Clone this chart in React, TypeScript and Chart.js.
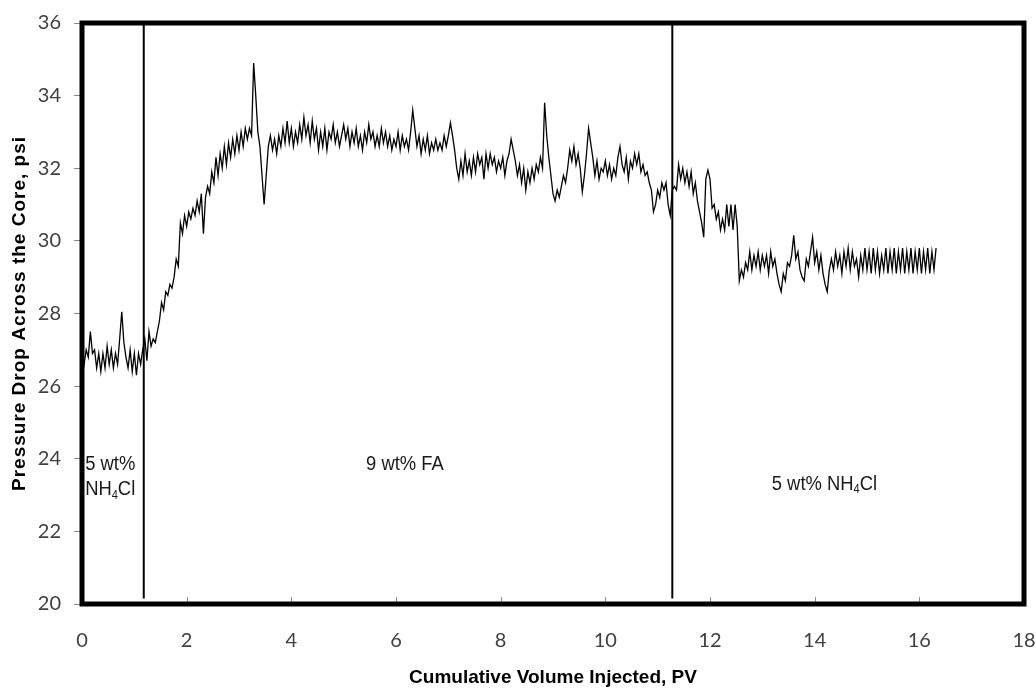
import { useEffect, useRef } from "react";
import { Chart, registerables } from "chart.js";

Chart.register(...registerables);

// Sampling interval of the logged pressure record (pore volumes)
const PV_STEP = 0.04;

// Pressure drop across the core (psi), logged every PV_STEP from 0 PV
const DP_PV_0_TO_2 = [
  26.9, 26.6, 27.0, 26.8, 27.5, 26.9, 27.0, 26.5, 26.9, 26.4,
  26.9, 26.5, 27.1, 26.6, 27.0, 26.5, 26.9, 26.6, 27.3, 28.05,
  27.2, 26.8, 26.5, 27.0, 26.4, 26.9, 26.3, 26.9, 26.6, 27.0,
  27.3, 26.7, 27.5, 27.1, 27.3, 27.2, 27.5, 27.8, 28.3, 28.1,
  28.6, 28.5, 28.8, 28.7, 29.0, 29.5, 29.3, 30.5, 30.2, 30.7,
];
const DP_PV_2_TO_4 = [
  30.4, 30.8, 30.6, 30.9, 30.7, 31.1, 30.8, 31.3, 30.2, 31.2,
  31.5, 31.3, 31.9, 31.6, 32.3, 31.8, 32.4, 32.0, 32.6, 32.1,
  32.7, 32.3, 32.8, 32.4, 32.9, 32.5, 33.0, 32.6, 33.1, 32.8,
  33.1, 32.9, 34.9, 34.0, 33.0, 32.6, 31.8, 31.0, 31.8, 32.6,
  32.9, 32.5, 32.8, 32.4, 32.9, 32.6, 33.1, 32.7, 33.3, 32.7,
];
const DP_PV_4_TO_6 = [
  33.1, 32.6, 33.0, 32.7, 33.2, 32.8, 33.4, 32.9, 33.2, 32.7,
  33.3, 32.8, 33.1, 32.5, 33.0, 32.6, 33.1, 32.5, 33.0, 32.8,
  33.2, 32.7, 33.0, 32.6, 32.9, 33.2, 32.8, 33.1, 32.6, 33.0,
  32.7, 33.1, 32.6, 32.9, 32.5, 33.0, 32.7, 33.2, 32.8, 33.0,
  32.6, 32.9, 32.6, 33.1, 32.7, 33.0, 32.6, 32.9, 32.5, 32.8,
];
const DP_PV_6_TO_8 = [
  32.6, 33.0, 32.5, 32.9, 32.6, 32.8, 32.5, 33.0, 33.6, 33.1,
  32.6, 32.9, 32.4, 32.8, 32.5, 32.9, 32.4, 32.7, 32.5, 32.8,
  32.5, 32.7, 32.5, 32.9, 32.6, 32.9, 33.25, 32.9, 32.5, 32.0,
  31.7, 32.2, 31.8, 32.4, 31.9, 32.2, 31.8, 32.3, 31.9, 32.4,
  32.1, 32.3, 31.7, 32.4, 32.0, 32.4, 32.1, 32.3, 31.9, 32.2,
];
const DP_PV_8_TO_10 = [
  32.0, 32.3, 31.8, 32.2, 32.4, 32.8, 32.5, 32.2, 31.8, 32.1,
  31.6, 32.0, 31.4, 31.9, 31.6, 32.0, 31.7, 32.1, 31.9, 32.3,
  32.0, 33.8, 32.9, 32.3, 31.8, 31.3, 31.1, 31.4, 31.2, 31.5,
  31.8, 31.6, 32.0, 32.5, 32.2, 32.6, 32.1, 32.4, 32.0, 31.35,
  31.8, 32.4, 33.1, 32.7, 32.3, 31.8, 32.2, 31.7, 32.0, 31.9,
];
const DP_PV_10_TO_12 = [
  32.2, 31.8, 32.1, 31.7, 32.0, 31.8, 32.3, 32.6, 32.1, 31.9,
  32.3, 31.7, 32.2, 32.0, 32.4, 32.1, 32.4, 31.9, 32.1, 31.8,
  31.9, 31.6, 31.4, 30.8, 31.0, 31.4, 31.2, 31.6, 31.4, 31.6,
  31.0, 30.7, 31.4, 31.5, 31.4, 32.1, 31.7, 32.0, 31.6, 31.9,
  31.5, 31.9, 31.3, 31.6, 31.1, 30.8, 30.5, 30.1, 31.7, 31.95,
];
const DP_PV_12_TO_14 = [
  31.7, 30.9, 31.0, 30.6, 30.8, 30.3, 30.6, 30.3, 31.0, 30.4,
  31.0, 30.3, 31.0, 30.4, 28.9, 29.2, 29.0, 29.4, 29.2, 29.7,
  29.2, 29.6, 29.3, 29.7, 29.2, 29.6, 29.3, 29.6, 29.1, 29.7,
  29.3, 29.5, 29.1, 28.8, 28.6, 29.1, 28.9, 29.4, 29.3, 29.6,
  30.15, 29.5, 29.7, 29.2, 29.0, 28.9, 29.5, 29.3, 29.7, 30.1,
];
const DP_PV_14_TO_16 = [
  29.4, 29.7, 29.2, 29.6, 29.1, 28.8, 28.6, 29.2, 29.5, 29.2,
  29.7, 29.3, 29.6, 29.1, 29.7, 29.3, 29.8, 29.2, 29.7, 29.3,
  29.5, 29.0, 29.6, 29.2, 29.8, 29.2, 29.7, 29.1, 29.8, 29.2,
  29.7, 29.1, 29.6, 29.2, 29.8, 29.1, 29.7, 29.2, 29.8, 29.1,
  29.7, 29.2, 29.8, 29.1, 29.7, 29.2, 29.8, 29.1, 29.7, 29.2,
];
const DP_PV_16_ON = [29.8, 29.1, 29.7, 29.2, 29.8, 29.1, 29.7, 29.2, 29.8];

const PRESSURE_DROP = [
  ...DP_PV_0_TO_2,
  ...DP_PV_2_TO_4,
  ...DP_PV_4_TO_6,
  ...DP_PV_6_TO_8,
  ...DP_PV_8_TO_10,
  ...DP_PV_10_TO_12,
  ...DP_PV_12_TO_14,
  ...DP_PV_14_TO_16,
  ...DP_PV_16_ON,
];

// Injection stage changes (PV) and the vertical extent of the marker lines (psi)
const STAGE_CHANGES_PV = [1.18, 11.28];
const STAGE_LINE_PSI = [20.15, 36];

// Stage names; each line is split into [normal, subscript, normal, ...] runs
const STAGE_TEXT = [
  [["5 wt%"], ["NH", "4", "Cl"]],
  [["9 wt% FA"]],
  [["5 wt% NH", "4", "Cl"]],
];

// Axes
const X_MIN = 0;
const X_MAX = 18;
const X_STEP = 2;
const Y_MIN = 20;
const Y_MAX = 36;
const Y_STEP = 2;
const X_TITLE = "Cumulative Volume Injected, PV";
const Y_TITLE = "Pressure Drop Across the Core, psi";

// Where each stage name sits, in axis units, and how it is aligned
const STAGE_TEXT_PLACE = [
  { x: 0.06, y: 23.83, align: "left" },
  { x: 6.17, y: 23.83, align: "center" },
  { x: 13.18, y: 23.3, align: "left" },
];

const TEXT_FONT = '"Liberation Sans", Arial, sans-serif';
const TICK_FONT = 'Lato, "Open Sans", sans-serif';

function drawRuns(
  ctx: CanvasRenderingContext2D,
  runs: string[],
  x: number,
  y: number,
  align: string,
  size: number,
  squeeze: number
) {
  const normal = `${size}px ${TEXT_FONT}`;
  const small = `${Math.round(size * 0.62)}px ${TEXT_FONT}`;
  const widths = runs.map((r, i) => {
    ctx.font = i % 2 ? small : normal;
    return ctx.measureText(r).width;
  });
  const total = widths.reduce((a, b) => a + b, 0);
  ctx.save();
  ctx.translate(x, y);
  ctx.scale(squeeze, 1);
  let cx = align === "center" ? -total / 2 : 0;
  ctx.textBaseline = "middle";
  ctx.textAlign = "left";
  runs.forEach((r, i) => {
    ctx.font = i % 2 ? small : normal;
    ctx.fillText(r, cx, i % 2 ? size * 0.3 : 0);
    cx += widths[i];
  });
  ctx.restore();
}

const decorations = {
  id: "decorations",
  afterDraw(chart: any) {
    const { ctx, chartArea: a, scales } = chart;
    const xs = scales.x;
    const ys = scales.y;
    ctx.save();

    // small inward tick marks on the bottom axis
    ctx.strokeStyle = "#8a8a8a";
    ctx.lineWidth = 1;
    for (let v = X_MIN + X_STEP; v < X_MAX; v += X_STEP) {
      const px = Math.round(xs.getPixelForValue(v)) + 0.5;
      ctx.beginPath();
      ctx.moveTo(px, a.bottom);
      ctx.lineTo(px, a.bottom - 7);
      ctx.stroke();
    }

    // heavy frame round the plot area
    ctx.strokeStyle = "#000";
    ctx.lineWidth = 5;
    ctx.strokeRect(a.left, a.top, a.right - a.left, a.bottom - a.top);

    // stage names
    ctx.fillStyle = "#1a1a1a";
    STAGE_TEXT.forEach((lines, k) => {
      const place = STAGE_TEXT_PLACE[k];
      const px = xs.getPixelForValue(place.x);
      const py0 = ys.getPixelForValue(place.y);
      lines.forEach((runs, j) => {
        drawRuns(ctx, runs, px, py0 + j * 25, place.align, 20, 0.92);
      });
    });

    // axis titles
    ctx.fillStyle = "#000";
    ctx.font = `bold 19px ${TEXT_FONT}`;
    ctx.textAlign = "center";
    ctx.textBaseline = "alphabetic";
    ctx.fillText(X_TITLE, (a.left + a.right) / 2, 683);

    ctx.save();
    ctx.translate(25, (a.top + a.bottom) / 2);
    ctx.rotate(-Math.PI / 2);
    (ctx as any).letterSpacing = "1px";
    ctx.fillText(Y_TITLE, 0, 0);
    ctx.restore();

    ctx.restore();
  },
};

export default function App() {
  const canvasRef = useRef<HTMLCanvasElement | null>(null);

  useEffect(() => {
    const canvas = canvasRef.current;
    if (!canvas) return;

    const record = PRESSURE_DROP.map((v, i) => ({ x: +(i * PV_STEP).toFixed(2), y: v }));
    const stageLines = STAGE_CHANGES_PV.map((pv) => ({
      data: STAGE_LINE_PSI.map((p) => ({ x: pv, y: p })),
      borderColor: "#000",
      borderWidth: 2,
      pointRadius: 0,
    }));

    const chart = new Chart(canvas, {
      type: "line",
      data: {
        datasets: [
          {
            data: record,
            borderColor: "#000",
            borderWidth: 1.3,
            pointRadius: 0,
            tension: 0,
          },
          ...stageLines,
        ],
      },
      options: {
        animation: false,
        responsive: false,
        events: [],
        layout: { padding: { top: 23, right: 12, left: 0, bottom: 0 } },
        plugins: { legend: { display: false }, tooltip: { enabled: false } },
        scales: {
          x: {
            type: "linear",
            min: X_MIN,
            max: X_MAX,
            ticks: {
              stepSize: X_STEP,
              color: "#404040",
              font: { family: TICK_FONT, size: 20 },
              padding: 25,
              maxRotation: 0,
            },
            grid: { display: false, drawTicks: false },
            border: { display: false },
            afterFit: (s: any) => {
              s.height = 84;
              s.paddingLeft = 0;
              s.paddingRight = 0;
            },
          },
          y: {
            type: "linear",
            min: Y_MIN,
            max: Y_MAX,
            ticks: {
              stepSize: Y_STEP,
              color: "#404040",
              font: { family: TICK_FONT, size: 20 },
              padding: 13,
            },
            grid: {
              drawOnChartArea: false,
              drawTicks: true,
              tickLength: 8,
              color: "#8a8a8a",
            },
            border: { display: false },
            afterFit: (s: any) => {
              s.width = 82;
              s.paddingTop = 0;
              s.paddingBottom = 0;
            },
          },
        },
      },
      plugins: [decorations],
    });

    return () => chart.destroy();
  }, []);

  return (
    <div style={{ position: "absolute", left: 0, top: 0, width: 1036, height: 688, background: "#fff" }}>
      <canvas ref={canvasRef} width={1036} height={688} />
    </div>
  );
}
